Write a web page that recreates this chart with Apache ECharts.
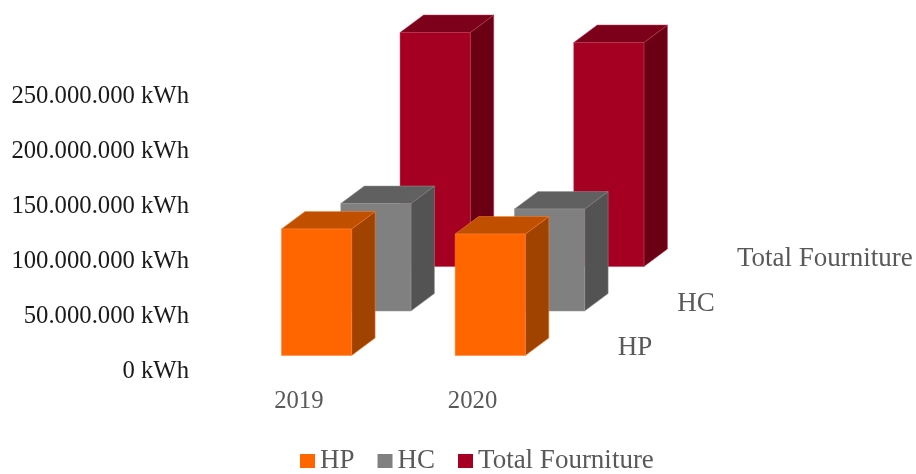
<!DOCTYPE html>
<html>
<head>
<meta charset="utf-8">
<style>html,body{margin:0;padding:0;background:#fff}#chart{width:916px;height:474px}</style>
<script src="https://cdn.jsdelivr.net/npm/echarts@6/dist/echarts.min.js"></script>
</head>
<body>
<div id="chart"></div>
<script>
// Annual energy supplied, in kWh
const years = ['2019', '2020'];
const hp = [115000000, 110400000];
const hc = [97700000, 92700000];
const totalFourniture = [212700000, 203600000];

// Oblique projection of the pseudo-3D columns, in pixels
const ROW_STEP = [59.3, -44.5];   // shift from one depth row to the next
const ROW_ORIGIN = [17.7, -16];   // shift of the front row from the axis origin
const DEPTH = [23.5, -17.5];      // visible depth of each column
const BAR_RATIO = 0.404;          // column width as a share of the category band
const FONT = '"Liberation Serif", serif';
const FONT_SIZE = 24.7;
const NAME_FONT_SIZE = 27;

const rows = [
  { name: 'HP', values: hp, row: 0, front: '#FF6600', top: '#C05000', side: '#A04300', edge: '#FF8436', labelDx: 92.5, legendWidth: 37 },
  { name: 'HC', values: hc, row: 1, front: '#808080', top: '#606060', side: '#535353', edge: '#979797', labelDx: 92.5, legendWidth: 40 },
  { name: 'Total Fourniture', values: totalFourniture, row: 2, front: '#A50021', top: '#7C0019', side: '#6B0015', edge: '#B93A55', labelDx: 93, legendWidth: 175 }
];

function column(cfg) {
  return function (params, api) {
    const cat = api.value(0);
    const base = api.coord([cat, 0]);
    const head = api.coord([cat, api.value(1)]);
    const w = api.size([1, 0])[0] * BAR_RATIO;
    const ox = ROW_ORIGIN[0] + ROW_STEP[0] * cfg.row;
    const oy = ROW_ORIGIN[1] + ROW_STEP[1] * cfg.row;
    const l = base[0] + ox - w / 2, r = l + w;
    const b = base[1] + oy, t = head[1] + oy;
    const dx = DEPTH[0], dy = DEPTH[1];
    const face = (pts, fill) => ({
      type: 'polygon',
      shape: { points: pts },
      style: { fill: fill, stroke: cfg.edge, lineWidth: 0.5, lineJoin: 'round' }
    });
    const children = [
      face([[r, t], [r + dx, t + dy], [r + dx, b + dy], [r, b]], cfg.side),
      face([[l, t], [l + dx, t + dy], [r + dx, t + dy], [r, t]], cfg.top),
      face([[l, t], [r, t], [r, b], [l, b]], cfg.front)
    ];
    // The depth axis names its row to the right of the last column
    if (params.dataIndex === years.length - 1) {
      children.push({
        type: 'text',
        style: {
          text: cfg.name,
          x: r + cfg.labelDx,
          y: b - 7.5,
          fill: '#595959',
          font: NAME_FONT_SIZE + 'px ' + FONT,
          align: 'left',
          verticalAlign: 'middle'
        }
      });
    }
    return { type: 'group', children: children };
  };
}

const groupThousands = v => String(v).replace(/\B(?=(\d{3})+$)/g, '.');

const chart = echarts.init(document.getElementById('chart'), null, { renderer: 'canvas' });
chart.setOption({
  animation: false,
  backgroundColor: '#fff',
  grid: { left: 212, top: 96.5, width: 347.4, height: 275, containLabel: false },
  xAxis: {
    type: 'category',
    data: years,
    axisLine: { show: false },
    axisTick: { show: false },
    axisLabel: { margin: 18, color: '#595959', fontFamily: FONT, fontSize: FONT_SIZE }
  },
  yAxis: {
    type: 'value',
    min: 0,
    max: 250000000,
    interval: 50000000,
    axisLine: { show: false },
    axisTick: { show: false },
    splitLine: { show: false },
    axisLabel: {
      margin: 23,
      color: '#1a1a1a',
      fontFamily: FONT,
      fontSize: FONT_SIZE,
      formatter: v => groupThousands(v) + ' kWh'
    }
  },
  legend: {
    left: 300,
    top: 447.5,
    padding: 0,
    icon: 'rect',
    itemWidth: 15,
    itemHeight: 14,
    itemGap: 23,
    textStyle: { color: '#595959', fontFamily: FONT, fontSize: NAME_FONT_SIZE },
    data: rows.map(r => ({ name: r.name, textStyle: { width: r.legendWidth } }))
  },
  // Painted back to front so the nearer rows cover the farther ones
  series: rows.slice().reverse().map(cfg => ({
    type: 'custom',
    name: cfg.name,
    coordinateSystem: 'cartesian2d',
    itemStyle: { color: cfg.front },
    renderItem: column(cfg),
    encode: { x: 0, y: 1 },
    data: cfg.values.map((v, i) => [i, v])
  }))
});
</script>
</body>
</html>
